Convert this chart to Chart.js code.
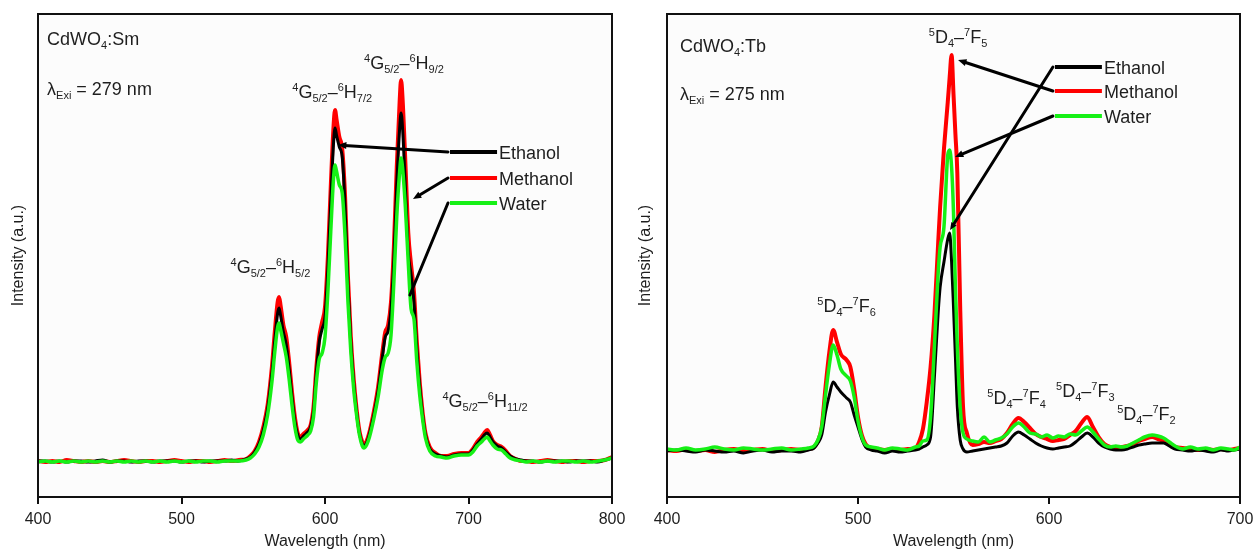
<!DOCTYPE html>
<html lang="en">
<head>
<meta charset="UTF-8">
<title>CdWO4 emission spectra</title>
<script src="https://cdn.jsdelivr.net/npm/chart.js"></script>
<style>
  body { margin: 0; background: #fff; overflow: hidden; }
  canvas { position: absolute; top: 0; }
  #smChart { left: 0; }
  #tbChart { left: 627px; }
</style>
</head>
<body>
<canvas id="smChart" width="627" height="551"></canvas>
<canvas id="tbChart" width="627" height="551"></canvas>

<script>
  // CdWO4:Sm emission, wavelength (nm) / intensity (a.u.)
  const smWave = [
    400, 405, 410, 415, 420, 425, 430, 435, 440, 445, 450, 455, 460, 465, 470, 475, 480, 485, 490, 495, 500, 505, 510, 515, 520, 525, 530, 535, 540,
    545, 548, 551, 554, 557, 560, 563, 565, 567, 568, 569, 571, 573, 575, 577, 579, 581, 583, 585, 588, 590,
    592, 594, 596, 598, 600, 602, 604, 606, 607, 608, 610, 612, 614, 616, 618, 620, 622, 624, 626, 627,
    629, 631, 634, 637, 640, 642, 644, 646, 648, 650, 652, 653, 654, 656, 658, 660, 662, 664, 666, 668, 670,
    673, 677, 681, 685, 690, 695, 700, 703, 706, 709, 711, 713, 715, 717, 720, 723, 726, 729, 733, 737, 740, 745, 750, 755, 760, 765, 770, 775, 780, 785, 790, 795, 800
  ];
  const smMethanol = [
    36, 35, 36, 35, 37, 36, 35, 36, 35, 36, 35, 36, 37, 36, 35, 36, 36, 35, 36, 37, 36, 35, 36, 36, 35, 36, 37, 36, 37,
    38, 41, 46, 55, 70, 92, 130, 165, 195, 200, 192, 172, 160, 135, 105, 80, 64, 60, 63, 67, 72,
    90, 130, 160, 175, 190, 240, 310, 372, 387, 378, 360, 348, 300, 220, 160, 118, 88, 66, 55, 52,
    56, 65, 85, 110, 145, 165, 172, 195, 250, 330, 395, 417, 400, 335, 265, 232, 205, 155, 115, 85, 64,
    50, 44, 41, 41, 43, 44, 44, 48, 55, 60, 64, 67, 62, 56, 52, 50, 46, 41, 38, 36, 36, 35, 36, 37, 36, 35, 36, 36, 35, 36, 36, 37, 40
  ];
  const smEthanol = [
    36, 36, 35, 36, 35, 36, 36, 35, 36, 37, 35, 36, 36, 35, 36, 36, 35, 36, 36, 36, 35, 36, 36, 35, 36, 36, 36, 37, 36,
    38, 40, 45, 53, 67, 88, 124, 156, 184, 189, 182, 165, 152, 128, 100, 76, 62, 58, 61, 65, 70,
    86, 125, 155, 168, 180, 228, 295, 355, 369, 362, 350, 340, 290, 212, 155, 114, 85, 64, 53, 51,
    54, 63, 82, 106, 140, 160, 166, 188, 238, 312, 368, 384, 370, 310, 245, 222, 195, 148, 110, 82, 62,
    48, 43, 41, 40, 42, 43, 43, 47, 53, 58, 62, 64, 60, 55, 51, 49, 45, 41, 38, 37, 36, 36, 35, 36, 36, 36, 35, 36, 36, 36, 35, 37, 39
  ];
  const smWater = [
    35, 36, 35, 36, 35, 36, 35, 36, 35, 36, 35, 36, 35, 36, 35, 36, 35, 36, 35, 36, 35, 36, 35, 36, 36, 35, 36, 36, 36,
    37, 39, 43, 50, 62, 82, 115, 145, 170, 174, 168, 154, 140, 118, 92, 70, 57, 55, 58, 62, 66,
    80, 115, 138, 144, 160, 205, 265, 320, 332, 326, 312, 304, 260, 195, 145, 108, 82, 62, 51, 49,
    52, 60, 78, 100, 128, 140, 144, 162, 215, 280, 325, 339, 330, 290, 235, 188, 178, 135, 102, 78, 59,
    46, 41, 40, 39, 41, 42, 42, 45, 51, 55, 58, 60, 56, 52, 48, 47, 43, 39, 37, 36, 35, 36, 35, 36, 35, 36, 36, 35, 36, 35, 36, 37, 39
  ];

  // CdWO4:Tb emission
  const tbWave = [
    400, 405, 410, 415, 420, 425, 430, 435, 440, 445, 450, 455, 460, 465, 470,
    474, 477, 479, 481, 483, 485, 487, 489, 491, 494, 496, 498, 500, 502, 504, 507,
    510, 514, 518, 522, 526, 530, 532, 534,
    536, 538, 540, 542, 543, 545, 547, 548, 549, 550, 551, 552, 553.5, 555, 557,
    560, 563, 566, 569, 572, 575, 578, 581, 584, 587, 590, 593, 596, 599, 602, 605, 608, 611, 614, 617, 620, 623, 626, 629,
    632, 635, 638, 641, 644, 647, 650, 654, 657, 660, 663, 666, 670, 674, 678, 682, 686, 690, 694, 697, 700
  ];
  const tbMethanol = [
    47, 46, 48, 46, 47, 45, 47, 48, 46, 47, 48, 46, 47, 48, 47,
    48, 50, 56, 70, 110, 145, 167, 155, 143, 137, 130, 108, 80, 62, 53, 49,
    48, 47, 48, 47, 48, 49, 55, 68,
    95, 130, 182, 255, 290, 348, 395, 420, 442, 403, 363, 324, 190, 90, 64,
    52, 53, 55, 54, 56, 58, 64, 73, 79, 75, 69, 63, 60, 58, 56, 57, 58, 62, 66, 74, 80, 70, 60, 53,
    50, 49, 50, 51, 53, 56, 58, 60, 58, 56, 53, 50, 49, 48, 47, 48, 47, 48, 47, 48, 49
  ];
  const tbEthanol = [
    46, 47, 46, 45, 47, 46, 45, 46, 44, 46, 47, 45, 46, 46, 45,
    47, 49, 54, 62, 85, 102, 115, 110, 105, 99, 95, 82, 70, 58, 50, 47,
    46, 44, 46, 45, 46, 47, 48, 50,
    52, 60, 120, 185, 210, 235, 258, 264, 235, 190, 140, 90, 57, 48, 45,
    46, 47, 48, 49, 50, 51, 54, 61, 65, 62, 58, 54, 51, 49, 48, 49, 50, 51, 55, 60, 64, 60, 54, 50,
    48, 47, 47, 48, 50, 52, 53, 54, 54, 54, 51, 48, 47, 46, 47, 46, 45, 47, 46, 47, 48
  ];
  const tbWater = [
    48, 47, 49, 47, 48, 50, 48, 47, 49, 48, 47, 48, 49, 47, 48,
    49, 51, 57, 70, 102, 132, 152, 142, 128, 121, 116, 100, 76, 60, 52, 50,
    49, 47, 49, 48, 47, 50, 51, 56,
    57, 80, 150, 225, 250, 270, 342, 347, 330, 285, 210, 150, 90, 64, 58,
    56, 55, 60, 55, 57, 59, 63, 70, 74, 70, 64, 63, 60, 62, 59, 61, 60, 63, 62, 66, 70, 65, 58, 52,
    50, 51, 50, 51, 54, 57, 60, 62, 61, 59, 55, 51, 48, 50, 48, 49, 47, 49, 48, 47, 50
  ];

  const FONT = '"Liberation Sans", Arial, Helvetica, sans-serif';
  const TEXT = '#1e1e1e';

  // '^{..}' = superscript, '_{..}' = subscript
  function richParts(str) {
    const parts = [];
    const re = /([\^_])\{([^}]*)\}|([^\^_]+)/g;
    let m;
    while ((m = re.exec(str))) {
      if (m[3]) parts.push({ t: m[3], k: '' });
      else parts.push({ t: m[2], k: m[1] });
    }
    return parts;
  }

  function drawRich(ctx, str, x, y, align) {
    const parts = richParts(str);
    const big = '18px ' + FONT, small = '11px ' + FONT;
    let w = 0;
    parts.forEach(p => {
      ctx.font = p.k ? small : big;
      p.w = ctx.measureText(p.t).width;
      w += p.w;
    });
    let cx = align === 'center' ? x - w / 2 : x;
    ctx.textAlign = 'left';
    ctx.textBaseline = 'alphabetic';
    parts.forEach(p => {
      ctx.font = p.k ? small : big;
      const dy = p.k === '^' ? -7 : p.k === '_' ? 4 : 0;
      ctx.fillText(p.t, cx, y + dy);
      cx += p.w;
    });
  }

  function drawArrow(ctx, x1, y1, x2, y2, head) {
    const ang = Math.atan2(y2 - y1, x2 - x1);
    ctx.beginPath();
    ctx.moveTo(x1, y1);
    ctx.lineTo(x2 - Math.cos(ang) * head * 0.7, y2 - Math.sin(ang) * head * 0.7);
    ctx.stroke();
    if (!head) return;
    ctx.beginPath();
    ctx.moveTo(x2, y2);
    ctx.lineTo(x2 - head * Math.cos(ang - 0.4), y2 - head * Math.sin(ang - 0.4));
    ctx.lineTo(x2 - head * Math.cos(ang + 0.4), y2 - head * Math.sin(ang + 0.4));
    ctx.closePath();
    ctx.fill();
  }

  // background, texts, key with arrows, frame
  const decor = {
    id: 'decor',
    beforeDraw(chart) {
      const { ctx, chartArea: a } = chart;
      ctx.save();
      ctx.fillStyle = '#fcfcfc';
      ctx.fillRect(a.left, a.top, a.right - a.left, a.bottom - a.top);
      ctx.restore();
    },
    afterDatasetsDraw(chart, args, opts) {
      const { ctx } = chart;
      const px = v => chart.scales.x.getPixelForValue(v);
      const py = v => chart.scales.y.getPixelForValue(v);
      ctx.save();
      ctx.fillStyle = TEXT;
      opts.labels.forEach(l => drawRich(ctx, l.text, px(l.x), py(l.y), l.align));
      opts.keys.forEach(k => {
        ctx.strokeStyle = '#000';
        ctx.fillStyle = '#000';
        ctx.lineWidth = 3;
        ctx.lineCap = 'round';
        drawArrow(ctx, px(opts.keyX[0]) - 2, py(k.y), px(k.to[0]), py(k.to[1]), k.head);
        ctx.lineCap = 'butt';
        ctx.strokeStyle = k.color;
        ctx.lineWidth = 4;
        ctx.beginPath();
        ctx.moveTo(px(opts.keyX[0]), py(k.y));
        ctx.lineTo(px(opts.keyX[1]), py(k.y));
        ctx.stroke();
        ctx.fillStyle = TEXT;
        drawRich(ctx, k.name, px(opts.keyX[1]) + 2, py(k.y) + 6.5, 'left');
      });
      ctx.restore();
    },
    afterDraw(chart) {
      const { ctx, chartArea: a } = chart;
      ctx.save();
      ctx.strokeStyle = '#111';
      ctx.lineWidth = 2;
      ctx.strokeRect(a.left, a.top, a.right - a.left, a.bottom - a.top);
      ctx.restore();
    }
  };
  Chart.register(decor);

  const pts = (xs, ys) => xs.map((x, i) => ({ x: x, y: ys[i] }));

  function makeChart(id, cfg) {
    return new Chart(document.getElementById(id), {
      type: 'line',
      data: {
        datasets: [
          { label: 'Water', data: pts(cfg.wave, cfg.water), borderColor: '#16f016', borderWidth: 3.5 },
          { label: 'Ethanol', data: pts(cfg.wave, cfg.ethanol), borderColor: '#000000', borderWidth: 3 },
          { label: 'Methanol', data: pts(cfg.wave, cfg.methanol), borderColor: '#ff0000', borderWidth: 4 }
        ]
      },
      options: {
        responsive: false,
        animation: false,
        devicePixelRatio: 1,
        elements: { point: { radius: 0 }, line: { cubicInterpolationMode: 'monotone', fill: false } },
        layout: { padding: { left: 0, right: cfg.padRight, top: 14, bottom: 0 } },
        plugins: {
          legend: { display: false },
          tooltip: { enabled: false },
          decor: { labels: cfg.labels, keys: cfg.keys, keyX: cfg.keyX }
        },
        scales: {
          x: {
            type: 'linear',
            min: 400,
            max: cfg.xMax,
            ticks: { stepSize: 100, color: TEXT, font: { family: FONT, size: 16 }, padding: 6 },
            grid: { drawOnChartArea: false, drawTicks: true, tickLength: 7, color: '#111', lineWidth: 2 },
            border: { display: true, color: '#111', width: 2 },
            title: { display: true, text: 'Wavelength (nm)', color: TEXT, font: { family: FONT, size: 16 }, padding: { top: 0, bottom: 0 } },
            afterFit: s => { s.height = 54; s.paddingLeft = 0; s.paddingRight = 0; }
          },
          y: {
            min: 0,
            max: 483,
            ticks: { display: false },
            grid: { display: false },
            border: { display: false },
            title: { display: true, text: 'Intensity (a.u.)', color: TEXT, font: { family: FONT, size: 16 }, padding: { top: 9, bottom: 0 } },
            afterFit: s => { s.width = cfg.yWidth; }
          }
        }
      }
    });
  }

  makeChart('smChart', {
    wave: smWave, methanol: smMethanol, ethanol: smEthanol, water: smWater,
    xMax: 800, padRight: 15, yWidth: 38,
    labels: [
      { text: 'CdWO_{4}:Sm', x: 406.3, y: 452, align: 'left' },
      { text: 'λ_{Exi} = 279 nm', x: 406.3, y: 402, align: 'left' },
      { text: '^{4}G_{5/2}–^{6}H_{5/2}', x: 562, y: 224, align: 'center' },
      { text: '^{4}G_{5/2}–^{6}H_{7/2}', x: 605, y: 399, align: 'center' },
      { text: '^{4}G_{5/2}–^{6}H_{9/2}', x: 655, y: 428, align: 'center' },
      { text: '^{4}G_{5/2}–^{6}H_{11/2}', x: 711.5, y: 90, align: 'center' }
    ],
    keyX: [687.1, 719.9],
    keys: [
      { name: 'Ethanol', color: '#000000', y: 345, to: [609.1, 352], head: 9 },
      { name: 'Methanol', color: '#ff0000', y: 319, to: [661.3, 298], head: 9 },
      { name: 'Water', color: '#16f016', y: 294, to: [659.2, 202], head: 0 }
    ]
  });

  makeChart('tbChart', {
    wave: tbWave, methanol: tbMethanol, ethanol: tbEthanol, water: tbWater,
    xMax: 700, padRight: 14, yWidth: 40,
    labels: [
      { text: 'CdWO_{4}:Tb', x: 406.8, y: 445, align: 'left' },
      { text: 'λ_{Exi} = 275 nm', x: 406.8, y: 397, align: 'left' },
      { text: '^{5}D_{4}–^{7}F_{5}', x: 552.4, y: 454, align: 'center' },
      { text: '^{5}D_{4}–^{7}F_{6}', x: 494, y: 185, align: 'center' },
      { text: '^{5}D_{4}–^{7}F_{4}', x: 583, y: 93, align: 'center' },
      { text: '^{5}D_{4}–^{7}F_{3}', x: 619, y: 100, align: 'center' },
      { text: '^{5}D_{4}–^{7}F_{2}', x: 651, y: 77, align: 'center' }
    ],
    keyX: [603.1, 627.7],
    keys: [
      { name: 'Ethanol', color: '#000000', y: 430, to: [548.2, 267], head: 8 },
      { name: 'Methanol', color: '#ff0000', y: 406, to: [552.4, 437], head: 9 },
      { name: 'Water', color: '#16f016', y: 381, to: [550.8, 340], head: 9 }
    ]
  });
</script>
</body>
</html>
